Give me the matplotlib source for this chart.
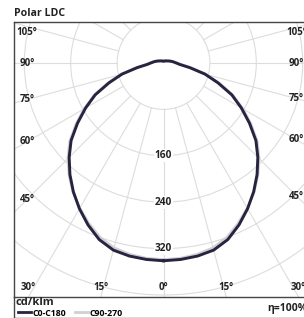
import numpy as np
import matplotlib
matplotlib.use("Agg")
import matplotlib.pyplot as plt
from matplotlib.patches import Circle
from matplotlib.lines import Line2D

plt.rcParams['font.family'] = ['Open Sans', 'DejaVu Sans']

# ---- data (cd/klm) ----
gamma = [0, 5, 10, 15, 20, 25, 30, 35, 40, 45, 50, 55, 60, 65, 70, 75, 80, 85,
         90, 95, 100, 105, 110, 120, 135, 150, 165, 180]
c0_c180 = [341, 340, 338, 334, 324, 308, 290, 271, 251, 230, 208, 181, 155, 130,
           100, 74, 46, 28, 22, 18, 15, 12, 10, 7, 5, 4, 3, 3]
c90_c270 = [339, 338, 335, 330, 320, 305, 289, 272, 253, 233, 211, 184, 158, 132,
            103, 77, 49, 31, 24, 19, 16, 13, 11, 8, 6, 5, 4, 4]
ring_values = [80, 160, 240, 320, 400, 480, 560]
ring_labels = [160, 240, 320]
ray_angles = list(range(0, 181, 15))
label_angles = [0, 15, 30, 45, 60, 75, 90, 105]
series_names = ["C0-C180", "C90-270"]
eff_text = "\u03b7=100%"
unit_text = "cd/klm"
title_text = "Polar LDC"

# ---- layout (pixels) ----
W, H = 304, 318
s = 0.58
cx, cy = 163.5, 63.0
fx0, fx1 = 14.0, 313.0
fy0, fy1 = 22.0, 297.0

fig = plt.figure(figsize=(W / 100, H / 100), dpi=100)
ax = fig.add_axes([fx0 / W, 1 - fy1 / H, (fx1 - fx0) / W, (fy1 - fy0) / H])
ax.set_xlim((fx0 - cx) / s, (fx1 - cx) / s)
ax.set_ylim((cy - fy1) / s, (cy - fy0) / s)
ax.set_xticks([]); ax.set_yticks([])
frame_col = '#4a4343'
for side in ['left', 'top', 'bottom', 'right']:
    ax.spines[side].set_color(frame_col)
    ax.spines[side].set_linewidth(1.0)

grid_col = '#dddddd'
for rv in ring_values:
    ax.add_patch(Circle((0, 0), rv, fill=False, ec=grid_col, lw=0.8, zorder=1))
for a in ray_angles:
    t = np.deg2rad(a)
    for sgn in (1, -1):
        ax.plot([sgn * 80 * np.sin(t), sgn * 700 * np.sin(t)],
                [-80 * np.cos(t), -700 * np.cos(t)], color=grid_col, lw=0.8, zorder=1)

def curve(vals):
    g = np.deg2rad(np.array(gamma, float))
    v = np.array(vals, float)
    xr, yr = v * np.sin(g), -v * np.cos(g)
    x = np.concatenate([xr, -xr[::-1]])
    y = np.concatenate([yr, yr[::-1]])
    return x, y

x2, y2 = curve(c90_c270)
ax.plot(x2, y2, color='#cfcfd4', lw=2.0, zorder=3, solid_joinstyle='round')
x1, y1 = curve(c0_c180)
ax.plot(x1, y1, color='#26243f', lw=2.1, zorder=4, solid_joinstyle='round')

for rl in ring_labels:
    ax.text(0, -rl, str(rl), ha='center', va='center', fontsize=7.3,
            fontweight='bold', color='#222222', zorder=5,
            bbox=dict(boxstyle='square,pad=0.08', fc='white', ec='none'))

# angle labels
ybot_lab = (cy - 287.0) / s
ybot_frame = (cy - fy1) / s
ytop_lim = (cy - 32.5) / s
for a in label_angles:
    t = np.deg2rad(a)
    dx, dy = np.sin(t), -np.cos(t)
    for sgn in (1, -1):
        if a == 0 and sgn == -1:
            continue
        xe = ((fx1 - 16.5 - cx) if sgn > 0 else (cx - fx0 - 13.0)) / s
        k = xe / max(dx, 1e-9)
        py = dy * k
        if py < ybot_lab:
            px = sgn * dx * (ybot_frame / dy)
            py = ybot_lab
        else:
            px = sgn * xe
            py = min(py, ytop_lim)
        ax.text(px, py, f"{a}\u00b0", ha='center', va='center', fontsize=7,
                fontweight='bold', color='#222222', zorder=6)

# legend strip
ax2 = fig.add_axes([fx0 / W, 1 - 317.5 / H, (fx1 - fx0) / W, (317.5 - fy1) / H])
ax2.set_xticks([]); ax2.set_yticks([])
ax2.patch.set_alpha(0)
for side in ['left', 'bottom', 'right']:
    ax2.spines[side].set_color(frame_col)
    ax2.spines[side].set_linewidth(1.0)
ax2.spines['top'].set_visible(False)

fig.text(15.5 / W, 1 - 302.5 / H, unit_text, ha='left', va='center', fontsize=8,
         fontweight='bold', color='#222222')
fig.text(307 / W, 1 - 308 / H, eff_text, ha='right', va='center', fontsize=7.5,
         fontweight='bold', color='#222222')
handles = [Line2D([], [], color='#26243f', lw=2.0), Line2D([], [], color='#cfcfd4', lw=2.0)]
fig.legend(handles, series_names, loc='center left', bbox_to_anchor=(18 / W, 1 - 313 / H),
           frameon=False, ncol=2, handlelength=1.45, handletextpad=0.2,
           columnspacing=1.0, borderpad=0, borderaxespad=0,
           prop=dict(family=['Open Sans', 'DejaVu Sans'], weight='bold', size=6.3))

fig.text(14 / W, 1 - 13.8 / H, title_text, ha='left', va='center', fontsize=7.6,
         fontweight='bold', color='#222222')

fig.savefig('out.png', dpi=100)
